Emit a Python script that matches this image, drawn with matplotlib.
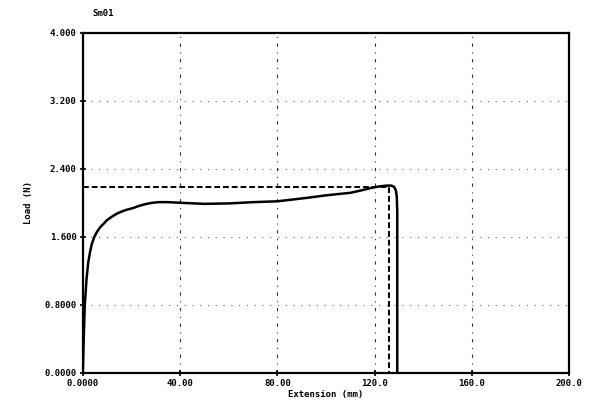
import matplotlib
matplotlib.use("Agg")
import matplotlib.pyplot as plt

ext = [0, 0.3, 0.8, 1.5, 2.2, 3.0, 3.7, 4.7, 5.8, 7, 8, 10, 12, 14, 16, 18, 20.6,
       23, 25.5, 28, 31, 35, 42, 50, 60, 70, 80, 86, 92, 100, 105, 110, 114, 119,
       122, 125, 126.8, 128, 128.7, 129.1, 129.3, 129.3]
load = [0, 0.35, 0.8, 1.1, 1.3, 1.43, 1.52, 1.6, 1.66, 1.71, 1.74, 1.8, 1.84,
        1.875, 1.9, 1.92, 1.94, 1.965, 1.985, 2.0, 2.01, 2.01, 2.0, 1.99, 1.995,
        2.01, 2.02, 2.04, 2.06, 2.09, 2.105, 2.12, 2.145, 2.18, 2.195, 2.205, 2.205,
        2.19, 2.15, 2.08, 1.9, 0]

dash_ext = [0, 126, 126]
dash_load = [2.19, 2.19, 0]

xticks = [0, 40, 80, 120, 160, 200]
xticklabels = ["0.0000", "40.00", "80.00", "120.0", "160.0", "200.0"]
yticks = [0, 0.8, 1.6, 2.4, 3.2, 4.0]
yticklabels = ["0.0000", "0.8000", "1.600", "2.400", "3.200", "4.000"]

fig = plt.figure(figsize=(5.96, 4.0), dpi=100)
ax = fig.add_axes([0.139, 0.0675, 0.816, 0.85])
ax.set_xlim(0, 200)
ax.set_ylim(0, 4.0)

for y in yticks[1:-1]:
    ax.axhline(y, color="#666666", lw=0.8, ls=(0, (1, 6)), zorder=1)
for x in xticks[1:-1]:
    ax.axvline(x, color="#333333", lw=0.8, ls=(0, (3, 5, 1, 5)), zorder=1)

ax.plot(ext, load, color="black", lw=1.8, zorder=3, solid_joinstyle="round")
ax.plot(dash_ext, dash_load, color="black", lw=1.4, ls=(0, (3, 1.5)), zorder=3)

ax.set_xticks(xticks)
ax.set_xticklabels(xticklabels)
ax.set_yticks(yticks)
ax.set_yticklabels(yticklabels)
fkw = dict(family="DejaVu Sans Mono", weight="bold", size=6.5)
for lab in ax.get_xticklabels() + ax.get_yticklabels():
    lab.set_fontproperties(matplotlib.font_manager.FontProperties(**fkw))
ax.tick_params(axis="both", direction="inout", length=5, width=1.2, pad=2)
for s in ax.spines.values():
    s.set_linewidth(1.6)

ax.set_xlabel("Extension (mm)", labelpad=1, **fkw)
ax.set_ylabel("Load (N)", labelpad=8, **fkw)
fig.text(0.155, 0.965, "Sm01", ha="left", va="center", **fkw)

fig.savefig("out.png", dpi=100)
